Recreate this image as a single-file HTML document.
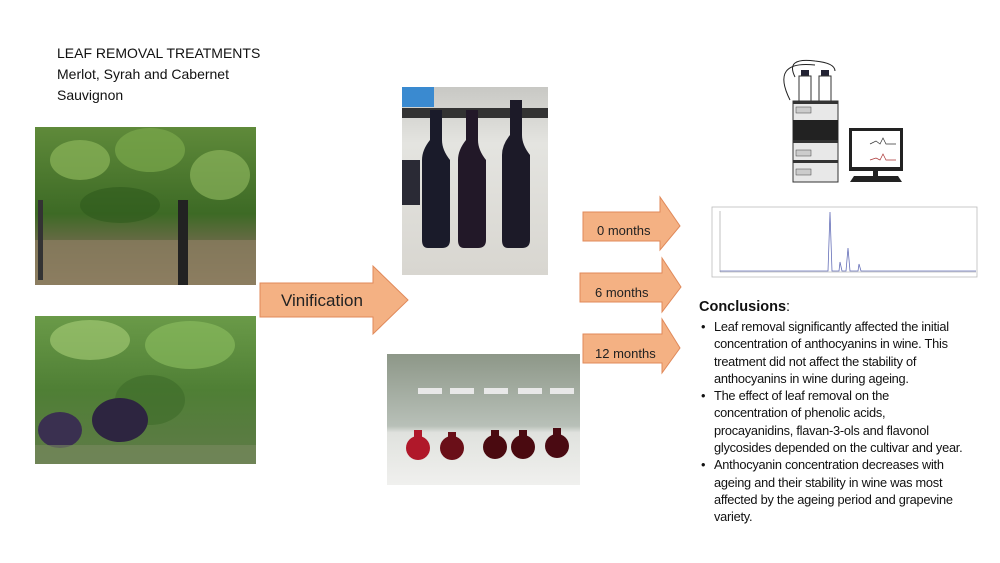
<!DOCTYPE html>
<html><head><meta charset="utf-8"><style>
body{margin:0;width:1000px;height:563px;background:#fff;overflow:hidden;position:relative;font-family:"Liberation Sans",Arial,sans-serif;}
.t{position:absolute;color:#111;}
.c div{white-space:nowrap;position:relative;}
.c .b::before{content:"•";position:absolute;left:-13px;}
</style></head><body>
<div class="t" style="left:57px;top:43px;font-size:14px;line-height:21px;">LEAF REMOVAL TREATMENTS<br>Merlot, Syrah and Cabernet<br>Sauvignon</div>

<svg width="1000" height="563" style="position:absolute;left:0;top:0">
<defs>
<linearGradient id="g1" x1="0" y1="0" x2="0" y2="1"><stop offset="0" stop-color="#5f8a3a"/><stop offset="0.55" stop-color="#3d6a25"/><stop offset="0.75" stop-color="#6e6a4a"/><stop offset="1" stop-color="#8a7a5c"/></linearGradient>
<linearGradient id="g2" x1="0" y1="0" x2="0" y2="1"><stop offset="0" stop-color="#6a9a48"/><stop offset="0.5" stop-color="#4f7f35"/><stop offset="1" stop-color="#5f7a48"/></linearGradient>
<linearGradient id="gb" x1="0" y1="0" x2="0" y2="1"><stop offset="0" stop-color="#c8c8c4"/><stop offset="0.3" stop-color="#e4e4e0"/><stop offset="1" stop-color="#d8d6d0"/></linearGradient>
<linearGradient id="gf" x1="0" y1="0" x2="0" y2="1"><stop offset="0" stop-color="#8d9788"/><stop offset="0.55" stop-color="#b8c0b8"/><stop offset="0.6" stop-color="#e0e2de"/><stop offset="1" stop-color="#f0f0ee"/></linearGradient>
</defs>
<rect x="35" y="127" width="221" height="158" fill="url(#g1)"/>
<ellipse cx="80" cy="160" rx="30" ry="20" fill="#8bb55a" opacity=".7"/>
<ellipse cx="150" cy="150" rx="35" ry="22" fill="#7aa84c" opacity=".7"/>
<ellipse cx="220" cy="175" rx="30" ry="25" fill="#94bd62" opacity=".6"/>
<ellipse cx="120" cy="205" rx="40" ry="18" fill="#2f5a1c" opacity=".6"/>
<rect x="35" y="240" width="221" height="45" fill="#8d7f62" opacity=".7"/>
<rect x="178" y="200" width="10" height="85" fill="#222"/>
<rect x="38" y="200" width="5" height="80" fill="#333"/>
<rect x="35" y="316" width="221" height="148" fill="url(#g2)"/>
<ellipse cx="90" cy="340" rx="40" ry="20" fill="#a8cf78" opacity=".6"/>
<ellipse cx="190" cy="345" rx="45" ry="24" fill="#8ec060" opacity=".6"/>
<ellipse cx="150" cy="400" rx="35" ry="25" fill="#3e6b2a" opacity=".6"/>
<ellipse cx="60" cy="430" rx="22" ry="18" fill="#3a3050"/>
<ellipse cx="120" cy="420" rx="28" ry="22" fill="#2d2540"/>
<rect x="35" y="445" width="221" height="19" fill="#7a8a60" opacity=".6"/>
<rect x="402" y="87" width="146" height="188" fill="url(#gb)"/>
<rect x="402" y="108" width="146" height="10" fill="#333"/>
<rect x="402" y="87" width="32" height="20" fill="#3a8ad0"/>
<path d="M430,110 h12 v30 q0,10 8,20 v80 q0,8 -8,8 h-14 q-6,0 -6,-8 v-80 q0,-10 8,-20z" fill="#1a1b2a"/>
<path d="M466,110 h12 v30 q0,10 8,20 v80 q0,8 -8,8 h-14 q-6,0 -6,-8 v-80 q0,-10 8,-20z" fill="#221828"/>
<path d="M510,100 h12 v35 q0,10 8,20 v85 q0,8 -8,8 h-14 q-6,0 -6,-8 v-85 q0,-10 8,-20z" fill="#1c1a28"/>
<rect x="402" y="160" width="18" height="45" fill="#2a2a35"/>
<rect x="387" y="354" width="193" height="131" fill="url(#gf)"/>
<g fill="#e8e8e8"><rect x="418" y="388" width="24" height="6"/><rect x="450" y="388" width="24" height="6"/><rect x="484" y="388" width="24" height="6"/><rect x="518" y="388" width="24" height="6"/><rect x="550" y="388" width="24" height="6"/></g>
<circle cx="418" cy="448" r="12" fill="#b0182a"/><rect x="414" y="430" width="8" height="14" fill="#b0182a"/>
<circle cx="452" cy="448" r="12" fill="#6a0f18"/><rect x="448" y="432" width="8" height="12" fill="#6a0f18"/>
<circle cx="495" cy="447" r="12" fill="#4a0a10"/><rect x="491" y="430" width="8" height="14" fill="#4a0a10"/>
<circle cx="523" cy="447" r="12" fill="#4a0a10"/><rect x="519" y="430" width="8" height="14" fill="#4a0a10"/>
<circle cx="557" cy="446" r="12" fill="#4a0a12"/><rect x="553" y="428" width="8" height="14" fill="#4a0a12"/>
<g fill="#f4b183" stroke="#e0895a" stroke-width="1">
<path d="M260,283 H373 V266 L408,300 L373,334 V317 H260Z"/>
<path d="M583,212 H660 V197 L680,226 L660,250 V241 H583Z"/>
<path d="M580,273 H662 V258 L681,287 L662,312 V302 H580Z"/>
<path d="M583,334 H662 V319 L680,348 L662,373 V363 H583Z"/>
</g>
<g font-family="Liberation Sans,Arial,sans-serif" fill="#222">
<text x="281" y="306" font-size="17">Vinification</text>
<text x="597" y="235" font-size="13">0 months</text>
<text x="595" y="297" font-size="13">6 months</text>
<text x="595" y="358" font-size="13">12 months</text>
</g>
<g stroke="#222" fill="none" stroke-width="1">
<path d="M795,77 q-10,-20 20,-16 q20,2 20,10"/><path d="M790,100 q-20,-40 25,-35"/>
</g>
<rect x="801" y="70" width="8" height="6" fill="#223"/><rect x="821" y="70" width="8" height="6" fill="#223"/>
<rect x="799" y="76" width="12" height="25" fill="#fff" stroke="#333"/><rect x="819" y="76" width="12" height="25" fill="#fff" stroke="#333"/>
<rect x="793" y="101" width="45" height="81" fill="#e8e8e8" stroke="#333"/>
<rect x="793" y="101" width="45" height="3" fill="#333"/>
<rect x="793" y="120" width="45" height="20" fill="#222"/>
<rect x="793" y="140" width="45" height="3" fill="#333"/><rect x="793" y="160" width="45" height="3" fill="#333"/>
<rect x="796" y="107" width="15" height="6" fill="#ccc" stroke="#444" stroke-width=".5"/>
<rect x="796" y="150" width="15" height="6" fill="#ccc" stroke="#444" stroke-width=".5"/>
<rect x="796" y="169" width="15" height="6" fill="#ccc" stroke="#444" stroke-width=".5"/>
<rect x="849" y="128" width="54" height="43" fill="#222"/>
<rect x="852" y="131" width="48" height="36" fill="#fff"/>
<path d="M870,144 l6,-3 l4,3 l3,-6 l3,6 l10,0" stroke="#333" fill="none" stroke-width=".7"/>
<path d="M870,160 l6,-2 l4,2 l3,-6 l3,6 l10,0" stroke="#a33" fill="none" stroke-width=".7"/>
<rect x="873" y="171" width="5" height="6" fill="#222"/>
<path d="M850,182 L902,182 L898,176 L854,176Z" fill="#222"/>
<rect x="712" y="207" width="265" height="70" fill="#fff" stroke="#bbb" stroke-width=".8"/>
<line x1="720" y1="211" x2="720" y2="272" stroke="#999" stroke-width=".6"/>
<line x1="720" y1="272" x2="976" y2="272" stroke="#999" stroke-width=".6"/>
<path d="M720,271 H828 L830,212 L832,271 H839 L840,262 L842,271 H846 L848,248 L850,271 H858 L859,264 L861,271 H976" stroke="#6670b8" fill="none" stroke-width=".8"/>
</svg>

<div class="t" style="left:699px;top:298px;font-size:14.5px;line-height:18px;"><b>Conclusions</b>:</div>
<div class="t c" style="left:714px;top:318px;font-size:12.8px;line-height:17.3px;letter-spacing:-0.25px;">
<div class="b">Leaf removal significantly affected the initial</div>
<div>concentration of anthocyanins in wine. This</div>
<div>treatment did not affect the stability of</div>
<div>anthocyanins in wine during ageing.</div>
<div class="b">The effect of leaf removal on the</div>
<div>concentration of phenolic acids,</div>
<div>procayanidins, flavan-3-ols and flavonol</div>
<div>glycosides depended on the cultivar and year.</div>
<div class="b">Anthocyanin concentration decreases with</div>
<div>ageing and their stability in wine was most</div>
<div>affected by the ageing period and grapevine</div>
<div>variety.</div>
</div>
</body></html>
